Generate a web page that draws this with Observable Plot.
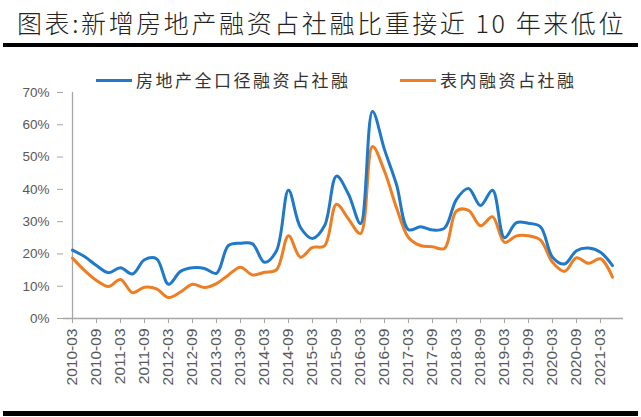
<!DOCTYPE html>
<html>
<head>
<meta charset="utf-8">
<script src="https://cdn.jsdelivr.net/npm/d3@7"></script>
<script src="https://cdn.jsdelivr.net/npm/@observablehq/plot@0.6"></script>
<style>
  html, body { margin: 0; padding: 0; background: #fff; }
  body { width: 641px; height: 417px; overflow: hidden; position: relative; font-family: "Noto Sans CJK SC", sans-serif; }
  #title { position: absolute; left: 17px; top: 6px; font-size: 25px; font-weight: 300; letter-spacing: 2.6px; color: #222; white-space: nowrap; line-height: 32px; }
  .rule { position: absolute; left: 3px; width: 635px; background: #000; }
  #chart { position: absolute; left: 0; top: 47px; }
  .leg { position: absolute; top: 68px; font-size: 17px; font-weight: 400; letter-spacing: 2.5px; color: #333; white-space: nowrap; line-height: 24px; }
  .sw { position: absolute; height: 3px; top: 79px; }
  #chart g[aria-label="y-axis tick"], #chart g[aria-label="x-axis tick"] { stroke: #a6a6a6; }
</style>
</head>
<body>
<div id="title">图表:新增房地产融资占社融比重接近 10 年来低位</div>
<div class="rule" style="top:43px;height:4px"></div>
<div id="chart"></div>
<div class="sw" style="left:96px;width:36px;background:#1f78c8"></div>
<div class="leg" style="left:136px">房地产全口径融资占社融</div>
<div class="sw" style="left:400px;width:36px;background:#ef7d22"></div>
<div class="leg" style="left:440px">表内融资占社融</div>
<div class="rule" style="top:411px;height:5px"></div>
<script>
const quarters = [
  "2010-03","2010-06","2010-09","2010-12",
  "2011-03","2011-06","2011-09","2011-12",
  "2012-03","2012-06","2012-09","2012-12",
  "2013-03","2013-06","2013-09","2013-12",
  "2014-03","2014-06","2014-09","2014-12",
  "2015-03","2015-06","2015-09","2015-12",
  "2016-03","2016-06","2016-09","2016-12",
  "2017-03","2017-06","2017-09","2017-12",
  "2018-03","2018-06","2018-09","2018-12",
  "2019-03","2019-06","2019-09","2019-12",
  "2020-03","2020-06","2020-09","2020-12",
  "2021-03","2021-06"
];
// 房地产全口径融资占社融 (%)
const totalShare = [
  21.2, 19.2, 16.4, 14.2,
  15.7, 13.8, 18.2, 18.5,
  10.6, 14.6, 15.7, 15.5,
  14.0, 22.6, 23.3, 23.1,
  17.4, 21.0, 39.7, 28.2,
  24.8, 28.7, 44.1, 38.5,
  29.4, 64.1, 52.3, 41.5,
  27.5, 28.4, 27.4, 28.0,
  36.9, 40.3, 35.0, 39.7,
  25.0, 29.7, 29.5, 28.4,
  19.0, 16.9, 21.0, 21.8,
  20.5, 16.4
];
// 表内融资占社融 (%)
const onBalanceShare = [
  18.7, 14.9, 11.8, 9.9,
  12.1, 8.0, 9.7, 9.2,
  6.5, 8.2, 10.6, 9.6,
  10.8, 13.5, 15.9, 13.5,
  14.3, 15.1, 25.6, 19.0,
  22.0, 22.5, 35.4, 30.8,
  26.3, 53.3, 45.6, 34.3,
  25.1, 22.6, 22.2, 21.7,
  33.3, 33.5, 28.7, 31.5,
  23.6, 25.6, 25.6, 24.3,
  17.4, 14.6, 18.8, 17.1,
  18.5, 12.8
];
const xTickLabels = [
  "2010-03","2010-09","2011-03","2011-09","2012-03","2012-09",
  "2013-03","2013-09","2014-03","2014-09","2015-03","2015-09",
  "2016-03","2016-09","2017-03","2017-09","2018-03","2018-09",
  "2019-03","2019-09","2020-03","2020-09","2021-03"
];
const yTicks = [0, 0.1, 0.2, 0.3, 0.4, 0.5, 0.6, 0.7];

const rows = quarters.map((q, i) => ({q, total: totalShare[i] / 100, onb: onBalanceShare[i] / 100}));

const chart = Plot.plot({
  width: 641,
  height: 364,
  marginLeft: 63,
  marginRight: 20,
  marginTop: 45,
  marginBottom: 93,
  style: {fontFamily: "'Liberation Sans', Arial, sans-serif", background: "transparent", overflow: "visible"},
  x: {type: "point", domain: quarters, padding: 0, label: null},
  y: {domain: [0, 0.7], label: null},
  marks: [
    Plot.axisY({ticks: yTicks, tickFormat: d3.format(".0%"), tickSize: 6, tickPadding: 8, fontSize: 13.5, color: "#595959", label: null}),
    Plot.axisX({ticks: xTickLabels, tickRotate: -90, tickSize: 5, tickPadding: 5, fontSize: 15.5, color: "#595959", label: null}),
    Plot.ruleX([quarters[0]], {y1: 0, y2: 0.7, stroke: "#a6a6a6", strokeWidth: 1.3}),
    Plot.ruleY([0], {stroke: "#a6a6a6", strokeWidth: 1.3, insetRight: -2}),
    Plot.line(rows, {x: "q", y: "onb", stroke: "#ef7d22", strokeWidth: 3, curve: "catmull-rom"}),
    Plot.line(rows, {x: "q", y: "total", stroke: "#1f78c8", strokeWidth: 3, curve: "catmull-rom"})
  ]
});
document.getElementById("chart").appendChild(chart);
</script>
</body>
</html>
